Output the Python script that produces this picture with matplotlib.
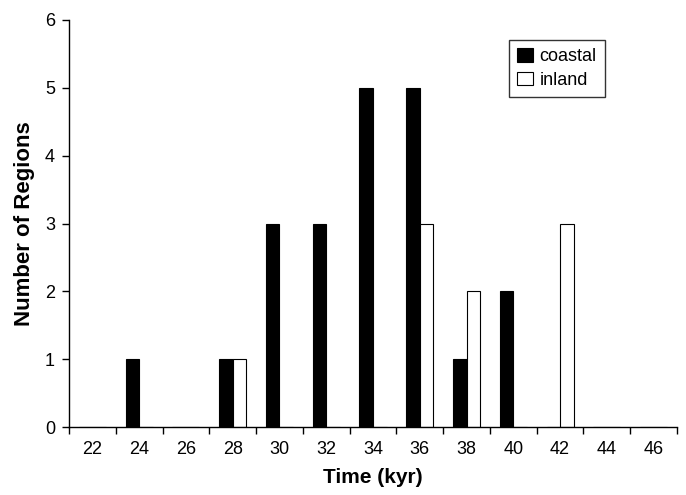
import matplotlib
matplotlib.use("Agg")
import matplotlib.pyplot as plt
import numpy as np

plt.rcParams['font.family'] = ['Liberation Sans', 'DejaVu Sans']

categories = ['22', '24', '26', '28', '30', '32', '34', '36', '38', '40', '42', '44', '46']
coastal = [0, 1, 0, 1, 3, 3, 5, 5, 1, 2, 0, 0, 0]
inland = [0, 0, 0, 1, 0, 0, 0, 3, 2, 0, 3, 0, 0]

fig = plt.figure(figsize=(6.86, 4.95), dpi=100)
ax = fig.add_axes([69/686, 68/495, 608/686, 407/495])

x = np.arange(len(categories))
w = 0.29
ax.bar(x - w/2, coastal, width=w, color='black', edgecolor='black', linewidth=0.8, label='coastal')
ax.bar(x + w/2, inland, width=w, color='white', edgecolor='black', linewidth=0.8, label='inland')

ax.set_xlim(-0.5, len(categories) - 0.5)
ax.set_ylim(0, 6)
ax.set_yticks(range(0, 7))
ax.tick_params(axis='y', direction='out', length=5, width=1, labelsize=13, pad=5)

ax.set_xticks(np.arange(-0.5, len(categories)), minor=False)
ax.set_xticklabels([])
ax.set_xticks(x, minor=True)
ax.set_xticklabels(categories, minor=True)
ax.tick_params(axis='x', which='major', direction='out', length=5, width=1)
ax.tick_params(axis='x', which='minor', length=0, labelsize=13, pad=10)

for s in ['top', 'right']:
    ax.spines[s].set_visible(False)
for s in ['left', 'bottom']:
    ax.spines[s].set_linewidth(1)

ax.set_xlabel('Time (kyr)', fontsize=15, fontweight='bold', labelpad=7)
ax.set_ylabel('Number of Regions', fontsize=16, fontweight='bold', labelpad=7)

leg = ax.legend(loc='upper left', bbox_to_anchor=((509-69)/608, (427-40)/407),
                borderaxespad=0,
                fontsize=13, frameon=True, fancybox=False, edgecolor='black',
                handlelength=0.9, handleheight=0.8, handletextpad=0.35,
                borderpad=0.45, labelspacing=0.35)
leg.get_frame().set_linewidth(1)

fig.savefig('out.png', dpi=100)
